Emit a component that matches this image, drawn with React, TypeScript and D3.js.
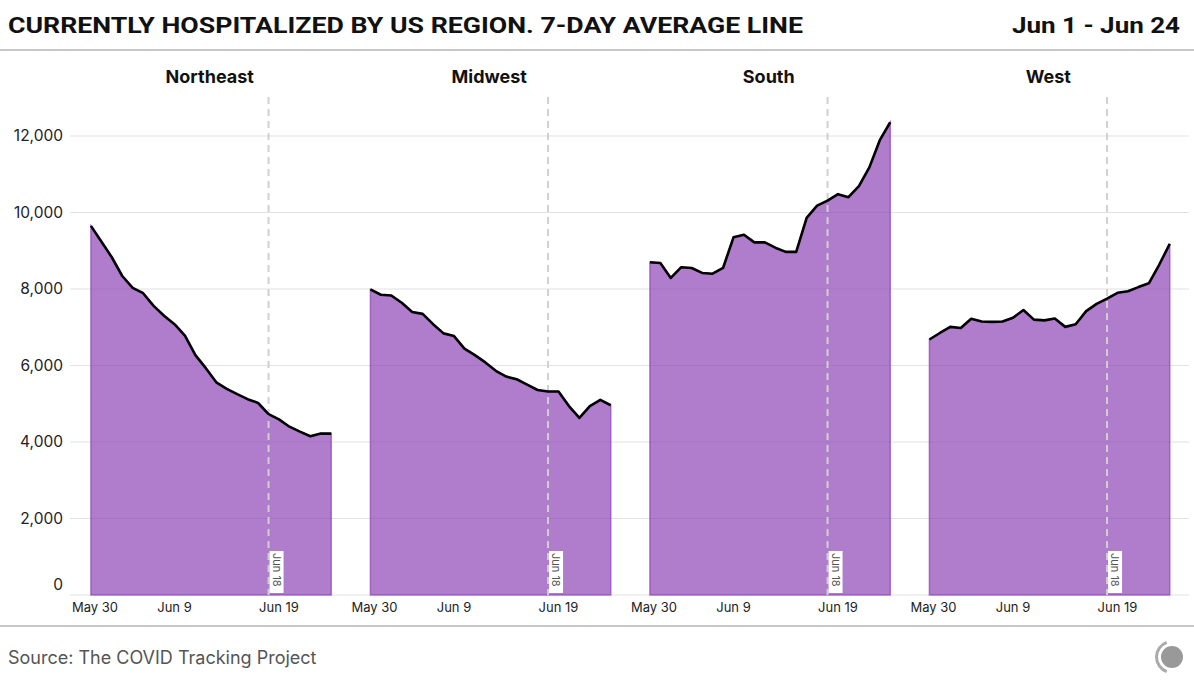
import React from "react";
import * as d3 from "d3";

// ---------- DATA ----------
const regions = ["Northeast", "Midwest", "South", "West"];

const dates = [
  "2020-06-01", "2020-06-02", "2020-06-03", "2020-06-04", "2020-06-05", "2020-06-06",
  "2020-06-07", "2020-06-08", "2020-06-09", "2020-06-10", "2020-06-11", "2020-06-12",
  "2020-06-13", "2020-06-14", "2020-06-15", "2020-06-16", "2020-06-17", "2020-06-18",
  "2020-06-19", "2020-06-20", "2020-06-21", "2020-06-22", "2020-06-23", "2020-06-24",
];

const northeast = [
  9650, 9240, 8830, 8340, 8030, 7890, 7560, 7300, 7080, 6780, 6270, 5930,
  5560, 5390, 5250, 5120, 5020, 4730, 4590, 4400, 4270, 4150, 4220, 4220,
];
const midwest = [
  7990, 7850, 7830, 7640, 7400, 7350, 7080, 6840, 6770, 6440, 6270, 6080,
  5860, 5710, 5640, 5500, 5360, 5320, 5320, 4940, 4630, 4940, 5100, 4960,
];
const south = [
  8700, 8680, 8290, 8570, 8550, 8420, 8400, 8550, 9350, 9420, 9220, 9220,
  9080, 8970, 8970, 9860, 10180, 10310, 10480, 10400, 10690, 11180, 11890, 12360,
];
const west = [
  6680, 6850, 7010, 6980, 7220, 7150, 7140, 7150, 7250, 7450, 7200, 7180,
  7230, 7010, 7080, 7420, 7610, 7750, 7900, 7940, 8050, 8150, 8640, 9180,
];
const seriesByRegion = [northeast, midwest, south, west];

const yTicks = [0, 2000, 4000, 6000, 8000, 10000, 12000];
const xTickDates = ["2020-05-30", "2020-06-09", "2020-06-19"];
const xTickLabels = ["May 30", "Jun 9", "Jun 19"];
const markerDate = "2020-06-18";
const markerLabel = "Jun 18";
const xDomain = ["2020-05-30", "2020-06-24"];

const titleText = "CURRENTLY HOSPITALIZED BY US REGION. 7-DAY AVERAGE LINE";
const dateRangeText = "Jun 1 - Jun 24";
const sourceText = "Source: The COVID Tracking Project";

// ---------- LAYOUT ----------
const W = 1194;
const H = 686;
const plotLeft = 70;
const panelStep = 279.5;
const dayPx = 10.45;
const plotRight = 1189;
const yTop = 136;
const yBottom = 595;
const FONT = "Inter, 'Liberation Sans', Arial, sans-serif";
const TITLE_FONT = "'Roboto', 'Liberation Sans', Arial, sans-serif";

const parse = d3.timeParse("%Y-%m-%d");

export default function App() {
  const x = d3
    .scaleTime()
    .domain(xDomain.map((s) => parse(s) as Date))
    .range([0, 25 * dayPx]);
  const y = d3.scaleLinear().domain([0, 12000]).range([yBottom, yTop]);

  const area = d3
    .area<{ date: Date; value: number }>()
    .x((d) => x(d.date))
    .y0(y(0))
    .y1((d) => y(d.value));
  const line = d3
    .line<{ date: Date; value: number }>()
    .x((d) => x(d.date))
    .y((d) => y(d.value));

  const fmt = d3.format(",");

  const logoArc = d3
    .arc()
    .innerRadius(14)
    .outerRadius(17)
    .startAngle((200 * Math.PI) / 180)
    .endAngle((340 * Math.PI) / 180);

  return (
    <svg
      width={W}
      height={H}
      style={{ position: "absolute", left: 0, top: 0, background: "#fff" }}
      fontFamily={FONT}
    >
      <rect x={0} y={0} width={W} height={H} fill="#fff" />
      {/* Title */}
      <text
        x={8}
        y={33}
        fontSize={22}
        fontWeight="bold"
        fill="#111"
        fontFamily={TITLE_FONT}
        textLength={795}
        lengthAdjust="spacingAndGlyphs"
      >
        {titleText}
      </text>
      <text
        x={1180}
        y={33}
        fontSize={22}
        fontWeight="bold"
        fill="#111"
        fontFamily={TITLE_FONT}
        textAnchor="end"
        textLength={168}
        lengthAdjust="spacingAndGlyphs"
      >
        {dateRangeText}
      </text>
      <line x1={0} x2={W} y1={50} y2={50} stroke="#b5b5b5" strokeWidth={1.5} />

      {/* Gridlines */}
      {yTicks.map((t) => (
        <line
          key={"g" + t}
          x1={plotLeft}
          x2={plotRight}
          y1={y(t)}
          y2={y(t)}
          stroke="#e2e2e2"
          strokeWidth={1.2}
        />
      ))}
      {/* Y labels */}
      {yTicks.map((t) => (
        <text
          key={"yl" + t}
          x={63}
          y={t === 0 ? y(t) - 10 : y(t)}
          dy="0.35em"
          fontSize={15.5}
          fill="#222"
          textAnchor="end"
        >
          {fmt(t)}
        </text>
      ))}

      {regions.map((name, i) => {
        const ox = plotLeft + i * panelStep;
        const data = dates.map((d, k) => ({
          date: parse(d) as Date,
          value: seriesByRegion[i][k],
        }));
        const mx = x(parse(markerDate) as Date);
        return (
          <g key={name} transform={`translate(${ox},0)`}>
            <text
              x={panelStep / 2}
              y={83}
              fontSize={18}
              fontWeight="bold"
              fill="#111"
              textAnchor="middle"
            >
              {name}
            </text>
            <path
              d={area(data) || ""}
              fill="rgb(142,68,182)"
              fillOpacity={0.7}
              stroke="rgb(142,68,182)"
              strokeOpacity={0.7}
              strokeWidth={1.5}
            />
            <line
              x1={mx}
              x2={mx}
              y1={97}
              y2={yBottom}
              stroke="#d0d0d0"
              strokeWidth={2}
              strokeDasharray="7,5"
            />
            <rect x={mx + 1} y={551} width={14} height={42} fill="#fff" />
            <text
              transform={`translate(${mx + 4},553) rotate(90)`}
              fontSize={11}
              fill="#555"
              textAnchor="start"
            >
              {markerLabel}
            </text>
            <path
              d={line(data) || ""}
              fill="none"
              stroke="#000"
              strokeWidth={2.6}
              strokeLinejoin="round"
            />
            {xTickDates.map((t, k) => (
              <text
                key={t}
                x={k === 0 ? x(parse(t) as Date) + 2 : x(parse(t) as Date)}
                y={612}
                fontSize={13}
                fill="#222"
                textAnchor={k === 0 ? "start" : "middle"}
              >
                {xTickLabels[k]}
              </text>
            ))}
          </g>
        );
      })}

      {/* Footer */}
      <line x1={0} x2={W} y1={626} y2={626} stroke="#b5b5b5" strokeWidth={1.5} />
      <text x={8} y={664} fontSize={18} fill="#555">
        {sourceText}
      </text>
      <g transform="translate(1172,657)">
        <path d={logoArc({} as any) || ""} fill="#aaa" />
        <circle cx={0} cy={0} r={11} fill="#999" />
      </g>
    </svg>
  );
}
